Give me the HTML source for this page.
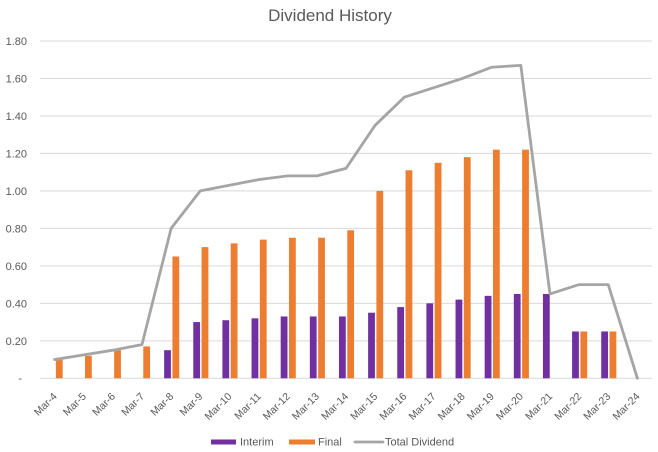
<!DOCTYPE html>
<html>
<head>
<meta charset="utf-8">
<style>
html,body{margin:0;padding:0;background:#fff;}
svg{display:block;font-family:"Liberation Sans",sans-serif;}
</style>
</head>
<body>
<svg width="658" height="452" viewBox="0 0 658 452" xmlns="http://www.w3.org/2000/svg">
<rect x="0" y="0" width="658" height="452" fill="#fff"/>
<text x="330" y="21" text-anchor="middle" font-size="17" fill="#595959">Dividend History</text>

<g stroke="#d9d9d9" stroke-width="1">
<line x1="40" x2="652" y1="40.98" y2="40.98"/>
<line x1="40" x2="652" y1="78.46" y2="78.46"/>
<line x1="40" x2="652" y1="115.94" y2="115.94"/>
<line x1="40" x2="652" y1="153.42" y2="153.42"/>
<line x1="40" x2="652" y1="190.9" y2="190.9"/>
<line x1="40" x2="652" y1="228.38" y2="228.38"/>
<line x1="40" x2="652" y1="265.86" y2="265.86"/>
<line x1="40" x2="652" y1="303.34" y2="303.34"/>
<line x1="40" x2="652" y1="340.82" y2="340.82"/>
<line x1="40" x2="652" y1="378.3" y2="378.3"/>
</g>

<g font-size="11" fill="#595959" text-anchor="end">
<text x="27" y="45">1.80</text>
<text x="27" y="82.5">1.60</text>
<text x="27" y="120">1.40</text>
<text x="27" y="157.5">1.20</text>
<text x="27" y="195">1.00</text>
<text x="27" y="232.5">0.80</text>
<text x="27" y="270">0.60</text>
<text x="27" y="307.5">0.40</text>
<text x="27" y="345">0.20</text>
<text x="22" y="382">-</text>
</g>

<!-- Interim bars -->
<g fill="#7030a0">
<rect x="164.13" y="350.19" width="6.8" height="28.11"/>
<rect x="193.27" y="322.08" width="6.8" height="56.22"/>
<rect x="222.41" y="320.21" width="6.8" height="58.09"/>
<rect x="251.55" y="318.33" width="6.8" height="59.97"/>
<rect x="280.69" y="316.46" width="6.8" height="61.84"/>
<rect x="309.83" y="316.46" width="6.8" height="61.84"/>
<rect x="338.97" y="316.46" width="6.8" height="61.84"/>
<rect x="368.11" y="312.71" width="6.8" height="65.59"/>
<rect x="397.25" y="307.09" width="6.8" height="71.21"/>
<rect x="426.39" y="303.34" width="6.8" height="74.96"/>
<rect x="455.53" y="299.59" width="6.8" height="78.71"/>
<rect x="484.67" y="295.84" width="6.8" height="82.46"/>
<rect x="513.81" y="293.97" width="6.8" height="84.33"/>
<rect x="542.95" y="293.97" width="6.8" height="84.33"/>
<rect x="572.09" y="331.45" width="6.8" height="46.85"/>
<rect x="601.23" y="331.45" width="6.8" height="46.85"/>
</g>

<!-- Final bars -->
<g fill="#ed7d31">
<rect x="55.87" y="359.56" width="6.8" height="18.74"/>
<rect x="85.01" y="355.81" width="6.8" height="22.49"/>
<rect x="114.15" y="350.19" width="6.8" height="28.11"/>
<rect x="143.29" y="346.44" width="6.8" height="31.86"/>
<rect x="172.43" y="256.49" width="6.8" height="121.81"/>
<rect x="201.57" y="247.12" width="6.8" height="131.18"/>
<rect x="230.71" y="243.37" width="6.8" height="134.93"/>
<rect x="259.85" y="239.62" width="6.8" height="138.68"/>
<rect x="288.99" y="237.75" width="6.8" height="140.55"/>
<rect x="318.13" y="237.75" width="6.8" height="140.55"/>
<rect x="347.27" y="230.3" width="6.8" height="148.0"/>
<rect x="376.41" y="190.9" width="6.8" height="187.4"/>
<rect x="405.55" y="170.28" width="6.8" height="208.02"/>
<rect x="434.69" y="162.79" width="6.8" height="215.51"/>
<rect x="463.83" y="157.17" width="6.8" height="221.13"/>
<rect x="492.97" y="149.67" width="6.8" height="228.63"/>
<rect x="522.11" y="149.67" width="6.8" height="228.63"/>
<rect x="580.39" y="331.45" width="6.8" height="46.85"/>
<rect x="609.53" y="331.45" width="6.8" height="46.85"/>
</g>

<!-- Total line -->
<polyline fill="none" stroke="#a5a5a5" stroke-width="2.8" stroke-linejoin="round" stroke-linecap="round"
points="54.57,359.56 83.71,354.87 112.85,350.19 141.99,344.57 171.13,228.38 200.27,190.9 229.41,185.28 258.55,179.66 287.69,175.91 316.83,175.91 345.97,168.41 375.11,125.31 404.25,97.2 433.39,87.83 462.53,78.46 491.67,67.22 520.81,65.34 549.95,293.97 579.09,284.6 608.23,284.6 637.37,378.3"/>

<!-- X labels -->
<g font-size="10.5" fill="#595959" text-anchor="end">
<text transform="translate(57.6,397) rotate(-45)">Mar-4</text>
<text transform="translate(86.7,397) rotate(-45)">Mar-5</text>
<text transform="translate(115.9,397) rotate(-45)">Mar-6</text>
<text transform="translate(145,397) rotate(-45)">Mar-7</text>
<text transform="translate(174.1,397) rotate(-45)">Mar-8</text>
<text transform="translate(203.3,397) rotate(-45)">Mar-9</text>
<text transform="translate(232.4,397) rotate(-45)">Mar-10</text>
<text transform="translate(261.6,397) rotate(-45)">Mar-11</text>
<text transform="translate(290.7,397) rotate(-45)">Mar-12</text>
<text transform="translate(319.8,397) rotate(-45)">Mar-13</text>
<text transform="translate(349,397) rotate(-45)">Mar-14</text>
<text transform="translate(378.1,397) rotate(-45)">Mar-15</text>
<text transform="translate(407.3,397) rotate(-45)">Mar-16</text>
<text transform="translate(436.4,397) rotate(-45)">Mar-17</text>
<text transform="translate(465.5,397) rotate(-45)">Mar-18</text>
<text transform="translate(494.7,397) rotate(-45)">Mar-19</text>
<text transform="translate(523.8,397) rotate(-45)">Mar-20</text>
<text transform="translate(553,397) rotate(-45)">Mar-21</text>
<text transform="translate(582.1,397) rotate(-45)">Mar-22</text>
<text transform="translate(611.2,397) rotate(-45)">Mar-23</text>
<text transform="translate(640.4,397) rotate(-45)">Mar-24</text>
</g>

<!-- Legend -->
<rect x="211" y="439.5" width="25" height="5" fill="#7030a0"/>
<text x="240" y="445.5" font-size="11" fill="#595959">Interim</text>
<rect x="289" y="439.5" width="26" height="5" fill="#ed7d31"/>
<text x="318" y="445.5" font-size="11" fill="#595959">Final</text>
<line x1="355" x2="383" y1="442" y2="442" stroke="#a5a5a5" stroke-width="2.8" stroke-linecap="round"/>
<text x="385" y="445.5" font-size="11" fill="#595959">Total Dividend</text>
</svg>
</body>
</html>
